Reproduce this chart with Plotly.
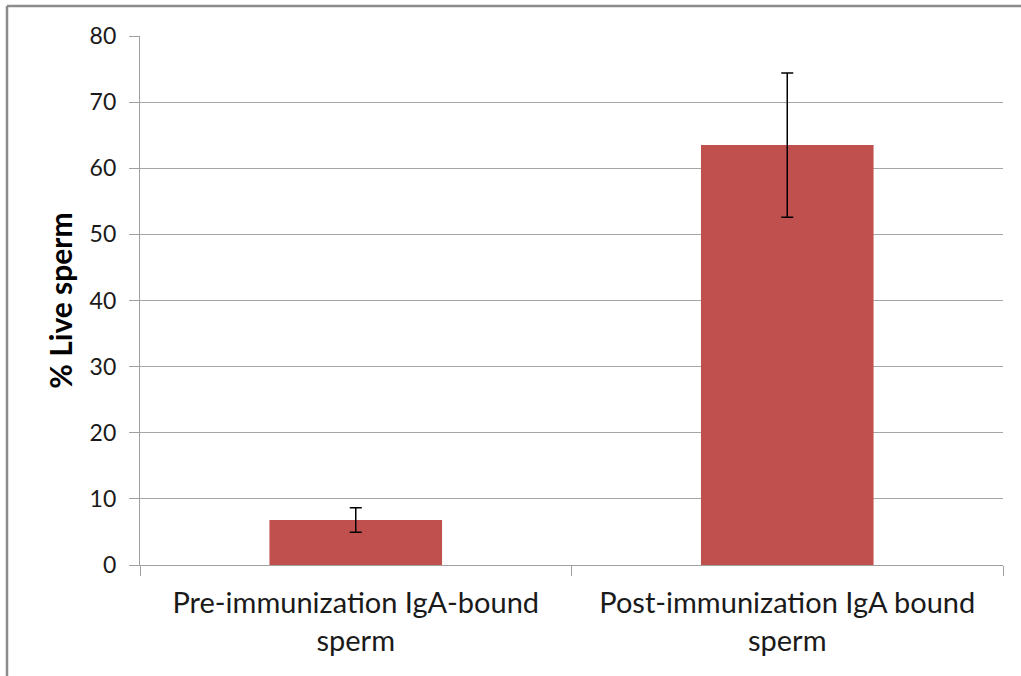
import plotly.graph_objects as go

categories = ["Pre-immunization IgA-bound<br>sperm", "Post-immunization IgA bound<br>sperm"]
values = [6.8, 63.5]
errors = [1.85, 10.9]
y_ticks = [0, 10, 20, 30, 40, 50, 60, 70, 80]

W, H = 1021, 676
L, R, T, B = 140, 18, 36, 110.5

fig = go.Figure(go.Bar(
    x=categories, y=values,
    marker=dict(color="#C0504D", line=dict(width=0)),
    error_y=dict(type="data", array=errors, visible=True, color="#000000", thickness=1.5, width=6),
))

FONT = "Lato, Open Sans, sans-serif"
fig.update_layout(
    width=W, height=H,
    margin=dict(l=L, r=R, t=T, b=B),
    paper_bgcolor="white", plot_bgcolor="white",
    bargap=0.6,
    showlegend=False,
    font=dict(family=FONT, size=24, color="#1a1a1a"),
    xaxis=dict(
        showgrid=False, showline=True, linecolor="#A0A0A0", linewidth=1.3,
        ticks="outside", ticklen=10, tickcolor="#A0A0A0", tickwidth=1.3,
        tickson="boundaries", tickfont=dict(size=29, family=FONT, color="#1a1a1a"),
        ticklabelstandoff=12,
    ),
    yaxis=dict(
        range=[0, 80], tickvals=y_ticks, showgrid=True, gridcolor="#A6A6A6", gridwidth=1.3,
        showline=True, linecolor="#A0A0A0", linewidth=1.3,
        ticks="outside", ticklen=10, tickcolor="#A0A0A0", tickwidth=1.3,
        tickfont=dict(size=23, family=FONT, color="#1a1a1a"),
        ticklabelstandoff=8,
        zeroline=False,
        title=dict(text="<b>% Live sperm</b>", font=dict(size=30, family=FONT, color="#000000"), standoff=8),
    ),
)

pw, ph = W - L - R, H - T - B
x0 = (7 - L) / pw
y1 = (H - B - 6) / ph
fig.add_shape(type="line", xref="paper", yref="paper", x0=x0, x1=x0, y0=-0.5, y1=y1,
              line=dict(color="#8C8C8C", width=2.5))
fig.add_shape(type="line", xref="paper", yref="paper", x0=x0, x1=1.2, y0=y1, y1=y1,
              line=dict(color="#8C8C8C", width=2.5))

fig.write_html("out.html", config={"displayModeBar": False},
               post_script="document.body.style.margin='0';document.body.style.overflow='hidden';")
